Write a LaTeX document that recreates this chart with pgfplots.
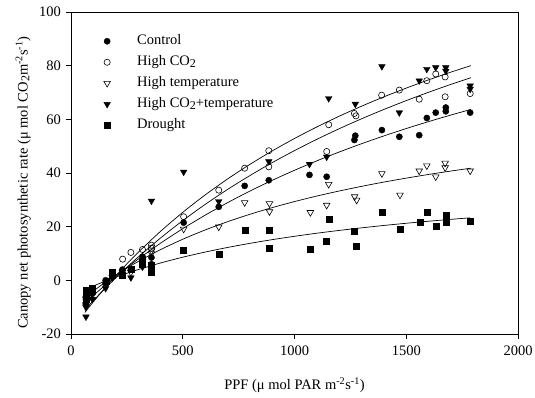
\documentclass[border=0pt]{standalone}
\usepackage{fontspec}
\setmainfont{Liberation Serif}
\usepackage{pgfplots}
\pgfplotsset{compat=1.18}
\newcommand{\subtwo}{{\fontsize{12bp}{12bp}\selectfont\raisebox{-0.35ex}{2}}}
\begin{document}
\fontsize{14.5bp}{17bp}\selectfont
\begin{tikzpicture}
\path[use as bounding box] (0,0) rectangle (535bp,398bp);
\begin{axis}[
  at={(71bp,64bp)}, anchor=south west,
  scale only axis, width=447bp, height=322bp,
  xmin=0, xmax=2000, ymin=-20, ymax=100,
  xtick={0,500,1000,1500,2000}, ytick={-20,0,20,40,60,80,100},
  xtick pos=lower, ytick pos=left, tick align=outside,
  major tick length=5bp,
  axis line style={line width=0.8pt},
  tick style={black, line width=0.7pt},
  /pgf/number format/assume math mode=true,
  /pgf/number format/1000 sep={},
  ticklabel style={font=\fontsize{14.5bp}{17bp}\selectfont},
  xticklabel style={yshift=-2bp},
  xlabel={PPF (μ mol PAR m\textsuperscript{-2}s\textsuperscript{-1})},
  ylabel={Canopy net photosynthetic rate (μ mol CO\subtwo m\textsuperscript{-2}s\textsuperscript{-1})},
  xlabel style={at={(axis description cs:0.5,-0.16)}, anchor=center},
  ylabel style={at={(axis description cs:-0.107,0.47)}, anchor=center},
  legend style={at={(axis description cs:0.067,0.933)}, anchor=north west,
    draw=none, fill=none, inner sep=0pt, row sep=6bp,
    nodes={inner sep=0pt, text height=11bp, text depth=4bp, anchor=west},
    font=\fontsize{14.5bp}{17bp}\selectfont},
  legend cell align=left,
  legend image code/.code={\path[draw=none,fill=none] (0bp,0bp) -- (36bp,0bp); \draw[#1] plot coordinates {(6bp,0bp)};},
]
% Control
\addplot[only marks, mark=*, mark size=3.1bp, black] coordinates {
(67,-7)(67,-8.5)(95,-5)(155,-1)(185,2)(230,4)(268,4)(320,8.8)(360,8.5)(360,6)
(504,21.5)(661,27.4)(777,35.2)(885,37.3)(1067,39.3)(1144,38.6)(1268,52.3)(1272,53.9)
(1391,56)(1469,53.5)(1558,54.1)(1592,60.5)(1632,62.5)(1677,64.4)(1677,63)(1786,62.5)};
\addlegendentry{Control}
% High CO2
\addplot[only marks, mark=o, mark size=3.1bp, black, mark options={line width=0.6pt}] coordinates {
(67,-6)(67,-9)(95,-4)(155,0)(185,2)(231,7.9)(268,10.4)(320,11.5)(360,13.1)(360,12)
(504,23.7)(661,33.6)(777,41.8)(885,48.3)(885,42.3)(1144,48)(1153,58)(1268,62.2)(1275,61.3)
(1390,69)(1469,70.9)(1558,67.5)(1592,74.4)(1632,76.9)(1674,75.8)(1674,68.4)(1786,69.6)};
\addlegendentry{High CO\subtwo}
% High temperature
\addplot[only marks, mark=triangle, mark size=3.8bp, black, mark options={rotate=180, line width=0.6pt}] coordinates {
(67,-7)(67,-9)(95,-5)(155,-2)(185,1)(230,3)(268,3)(320,7)(360,11)(360,10)
(504,19.1)(661,19.9)(777,29)(888,28.6)(888,25.6)(1071,25.3)(1144,28)(1153,35.8)(1269,31.2)(1278,29.9)
(1391,39.8)(1472,31.8)(1558,40.8)(1592,42.7)(1632,38.6)(1674,43.7)(1674,42)(1786,40.8)};
\addlegendentry{High temperature}
% High CO2 + temperature
\addplot[only marks, mark=triangle*, mark size=3.8bp, black, mark options={rotate=180}] coordinates {
(67,-13.6)(67,-10)(95,-7)(155,-3)(185,1)(230,2)(268,1)(320,5)(360,4)(360,29.6)
(504,40.4)(661,29.4)(885,44.3)(1067,43.3)(1144,46)(1153,67.8)(1272,65.7)(1391,79.7)
(1469,62.5)(1558,74.4)(1592,78.7)(1632,79.3)(1677,79.3)(1677,78)(1786,71.3)(1786,72.5)};
\addlegendentry{High CO\subtwo+temperature}
% Drought
\addplot[only marks, mark=square*, mark size=3bp, black] coordinates {
(67,-3.7)(67,-5.4)(67,-7)(95,-2.9)(95,-4)(159,-0.5)(186,2)(186,3)(230,2)(268,4.2)
(320,6)(320,7)(360,5.7)(360,3.2)(504,11.1)(661,9.6)(781,18.5)(888,18.5)(888,12.1)
(1068,11.7)(1143,14.7)(1156,22.9)(1268,18.4)(1277,12.9)(1393,25.5)(1473,19.2)(1562,21.8)
(1594,25.5)(1634,20.3)(1678,24.4)(1678,21.8)(1786,22.2)};
\addlegendentry{Drought}
% fitted curves
\addplot[black, line width=0.7pt, smooth, forget plot] coordinates {
(62,-12.00)(80,-10.09)(100,-8.02)(130,-5.00)(160,-2.08)(200,1.67)(250,6.13)(300,10.37)
(400,18.21)(500,25.33)(600,31.81)(700,37.74)(800,43.19)(900,48.21)(1000,52.86)(1100,57.16)
(1200,61.16)(1300,64.89)(1400,68.38)(1500,71.64)(1600,74.71)(1700,77.59)(1789,80.01)};
\addplot[black, line width=0.7pt, smooth, forget plot] coordinates {
(62,-11.01)(80,-9.36)(100,-7.57)(130,-4.95)(160,-2.39)(200,0.90)(250,4.85)(300,8.64)
(400,15.73)(500,22.25)(600,28.27)(700,33.85)(800,39.02)(900,43.85)(1000,48.34)(1100,52.55)
(1200,56.50)(1300,60.20)(1400,63.69)(1500,66.98)(1600,70.09)(1700,73.03)(1789,75.51)};
\addplot[black, line width=0.7pt, smooth, forget plot] coordinates {
(62,-8.51)(80,-7.14)(100,-5.64)(130,-3.45)(160,-1.32)(200,1.43)(250,4.72)(300,7.88)
(400,13.80)(500,19.24)(600,24.27)(700,28.92)(800,33.24)(900,37.26)(1000,41.01)(1100,44.53)
(1200,47.82)(1300,50.91)(1400,53.82)(1500,56.57)(1600,59.16)(1700,61.61)(1789,63.68)};
\addplot[black, line width=0.7pt, smooth, forget plot] coordinates {
(62,-6.50)(80,-5.30)(100,-4.00)(130,-2.13)(160,-0.35)(200,1.90)(250,4.53)(300,6.99)
(400,11.42)(500,15.31)(600,18.76)(700,21.84)(800,24.60)(900,27.09)(1000,29.35)(1100,31.41)
(1200,33.29)(1300,35.02)(1400,36.62)(1500,38.09)(1600,39.46)(1700,40.73)(1789,41.78)};
\addplot[black, line width=0.7pt, smooth, forget plot] coordinates {
(62,-3.50)(80,-2.83)(100,-2.11)(130,-1.07)(160,-0.09)(200,1.17)(250,2.63)(300,3.99)
(400,6.45)(500,8.62)(600,10.53)(700,12.24)(800,13.77)(900,15.16)(1000,16.41)(1100,17.56)
(1200,18.60)(1300,19.56)(1400,20.45)(1500,21.27)(1600,22.03)(1700,22.73)(1786,23.30)};
\end{axis}
\end{tikzpicture}
\end{document}
